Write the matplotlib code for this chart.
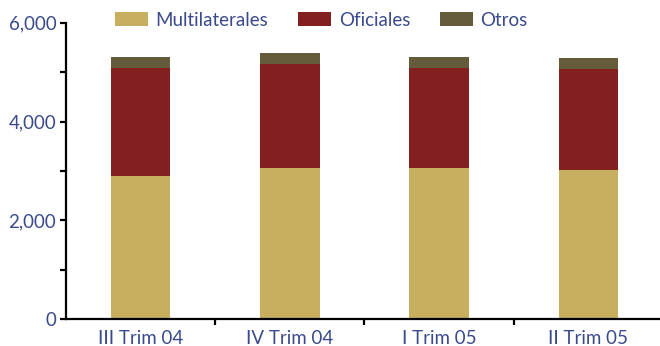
import numpy as np
import matplotlib
matplotlib.use("Agg")
from matplotlib import pyplot as plt

categorias = ["III Trim 04", "IV Trim 04", "I Trim 05", "II Trim 05"]
multilaterales = [2890, 3050, 3050, 3010]
oficiales = [2195, 2115, 2035, 2055]
otros = [223, 224, 223, 224]

azul = "#3a4a8c"
plt.rcParams['font.family'] = ['Lato', 'DejaVu Sans']

fig = plt.figure(figsize=(6.6, 3.46), dpi=100)
ax = fig.add_axes([0.1, 0.078, 0.9, 0.856])

x = np.arange(len(categorias))
w = 0.40
b1 = ax.bar(x, multilaterales, w, color="#c8af5f", label="Multilaterales")
base2 = np.array(multilaterales)
b2 = ax.bar(x, oficiales, w, bottom=base2, color="#841f1f", label="Oficiales")
base3 = base2 + np.array(oficiales)
b3 = ax.bar(x, otros, w, bottom=base3, color="#635b3a", label="Otros")

ax.set_xlim(-0.5, 3.48)
ax.set_ylim(0, 6000)
ax.set_yticks([0, 2000, 4000, 6000])
ax.set_yticklabels(["0", "2,000", "4,000", "6,000"])
ax.set_yticks([1000, 3000, 5000], minor=True)
ax.set_xticks([0.5, 1.5, 2.5])
ax.set_xticklabels([])
ax.set_xticks(x, minor=True)
ax.set_xticklabels(categorias, minor=True)

for s in ["top", "right"]:
    ax.spines[s].set_visible(False)
for s in ["left", "bottom"]:
    ax.spines[s].set_linewidth(1.6)
    ax.spines[s].set_color("black")

ax.tick_params(axis="y", which="both", direction="out", length=4, width=1.6,
               labelsize=13.5, labelcolor=azul, pad=3)
ax.tick_params(axis="x", which="major", direction="out", length=4, width=1.6)
ax.tick_params(axis="x", which="minor", length=0, labelsize=13.5, labelcolor=azul, pad=8)

leg = fig.legend(handles=[b1, b2, b3], loc="center", bbox_to_anchor=(0.487, 0.942),
                 ncol=3, frameon=False, fontsize=13.5, handlelength=1.75, handleheight=0.8,
                 handletextpad=0.4, columnspacing=1.6, borderpad=0)
for t in leg.get_texts():
    t.set_color(azul)

fig.savefig("out.png", dpi=100)
